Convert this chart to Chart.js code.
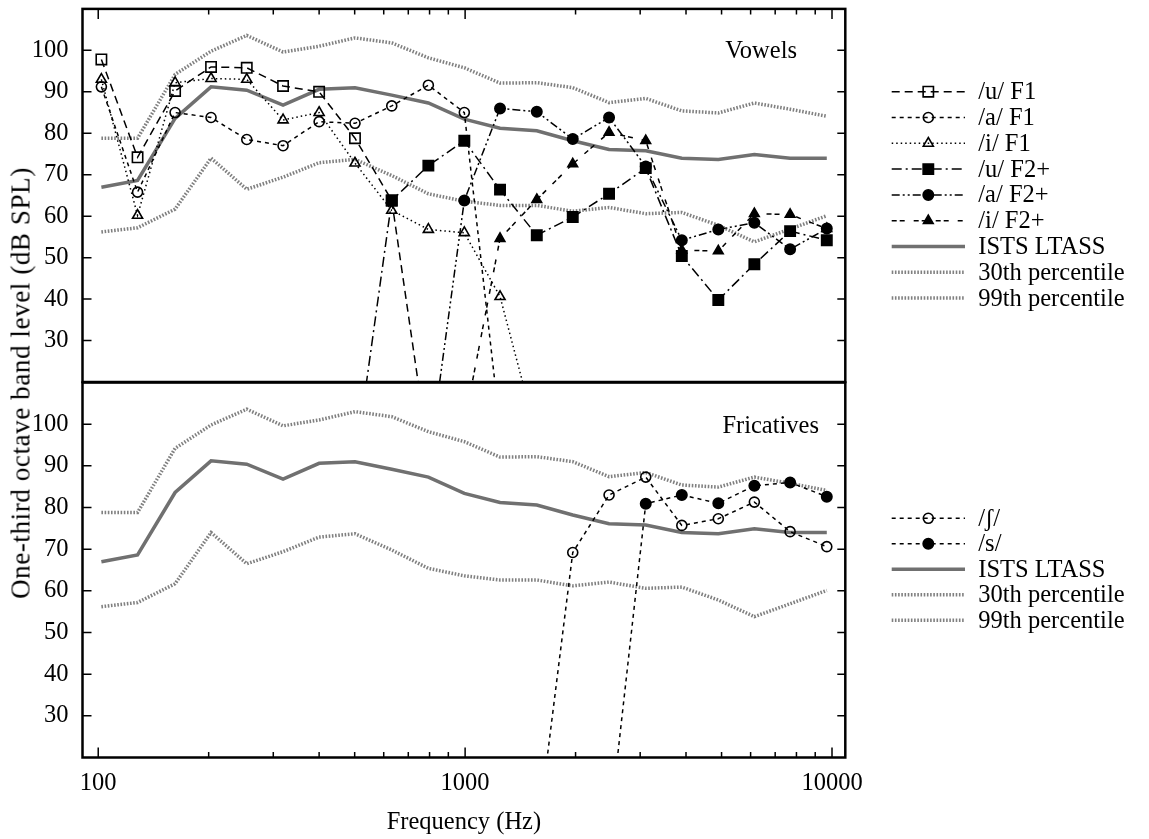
<!DOCTYPE html>
<html>
<head>
<meta charset="utf-8">
<script src="https://cdn.jsdelivr.net/npm/chart.js@4.4.1/dist/chart.umd.min.js"></script>
<style>
html,body{margin:0;padding:0;background:#fff;}
#wrap{position:relative;width:1149px;height:839px;overflow:hidden;background:#fff;}
#wrap canvas{position:absolute;left:0;top:0;}
#ytitle{position:absolute;left:21px;top:383px;transform:translate(-50%,-50%) rotate(-90deg);white-space:nowrap;font:27px "Liberation Serif","DejaVu Serif",serif;letter-spacing:0.6px;color:#000;}
</style>
</head>
<body>
<div id="wrap">
  <canvas id="topChart" width="1149" height="839"></canvas>
  <canvas id="botChart" width="1149" height="839"></canvas>
  <div id="ytitle">One-third octave band level (dB SPL)</div>
</div>
<script>
// one-third octave band spectra: vowels (top panel) and fricatives (bottom panel)
const FONT = '"Liberation Serif", "DejaVu Serif", "Times New Roman", serif';

// band centre frequencies as plotted (Hz)
const bandFreqs = [102,128,162,203,254,319,400,501,631,794,995,1245,1568,1965,2468,3107,3896,4899,6143,7688,9678];

const xMajorTicks = [100, 1000, 10000];
const xMinorTicks = [200,300,400,500,600,700,800,900,2000,3000,4000,5000,6000,7000,8000,9000];
const yTicks = [30,40,50,60,70,80,90,100];
const X_MIN = 90.6, X_MAX = 10870;

// reference spectra (dB SPL)
const ltass = [67.0,68.6,83.6,91.2,90.4,86.8,90.6,91.0,89.2,87.3,83.4,81.2,80.6,78.2,76.1,75.8,74.0,73.7,74.9,74.0,74.0];
const pct30 = [56.2,57.2,61.7,74.0,66.5,69.4,72.9,73.7,69.8,65.4,63.6,62.6,62.6,61.2,62.1,60.6,60.9,57.8,53.8,56.9,60.1];
const pct99 = [78.8,78.8,94.2,99.8,103.6,99.6,101.0,103.0,101.8,98.2,95.8,92.1,92.2,91.0,87.4,88.4,85.4,84.9,87.3,85.8,84.1];

// vowels
const uF1 = [97.8,74.2,90.2,96.0,95.8,91.4,90.0,78.8,63.8,3,null,null,null,null,null,null,null,null,null,null,null];
const aF1 = [91.2,65.8,85.0,83.8,78.5,77.0,82.8,82.4,86.6,91.6,85.0,9,null,null,null,null,null,null,null,null,null];
const iF1 = [93.0,60.2,92.2,93.2,93.0,83.2,85.0,72.8,61.4,56.8,56.0,40.6,7,null,null,null,null,null,null,null,null];
const uF2 = [null,null,null,null,null,null,null,0,63.8,72.2,78.2,66.4,55.4,59.8,65.4,71.6,50.4,39.8,48.4,56.4,54.2];
const aF2 = [null,null,null,null,null,null,null,null,null,0,63.8,86.0,85.2,78.6,83.8,72.0,54.2,56.8,58.4,52.0,57.0];
const iF2 = [null,null,null,null,null,null,null,null,null,null,10,54.6,64.0,72.6,80.2,78.2,51.8,51.6,60.6,60.4,57.0];

// fricatives
const shF = [null,null,null,null,null,null,null,null,null,null,null,null,0,69.2,83.0,87.3,75.7,77.3,81.3,74.2,70.6];
const sF  = [null,null,null,null,null,null,null,null,null,null,null,null,null,null,2,80.9,83.0,81.0,85.2,86.0,82.6];

function pts(vals){ return vals.map((v,i)=>({x:bandFreqs[i], y:v})) }

function markLine(label, vals, dash, style, r, filled){
  return {label, data:pts(vals), borderColor:'#000', borderWidth:1.5, borderDash:dash,
    pointStyle:style, pointRadius:r, pointHoverRadius:r, pointBorderColor:'#000', pointBorderWidth:1.6,
    pointBackgroundColor: filled ? '#000' : 'rgba(0,0,0,0)', tension:0, order:1};
}
function refLines(){
  return [
    {label:'ISTS LTASS', data:pts(ltass), borderColor:'#707070', borderWidth:3.5, pointRadius:0, tension:0, order:2},
    {label:'30th percentile', data:pts(pct30), borderColor:'#808080', borderWidth:3.5, borderDash:[1.6,1.6], pointRadius:0, tension:0, order:3},
    {label:'99th percentile', data:pts(pct99), borderColor:'#808080', borderWidth:3.5, borderDash:[1.6,1.6], pointRadius:0, tension:0, order:3}
  ];
}

function drawMarker(ctx, style, x, y, r, fill, lw){
  ctx.save(); ctx.setLineDash([]); ctx.lineWidth = lw; ctx.strokeStyle = '#000'; ctx.fillStyle = fill;
  ctx.beginPath();
  if(style==='rect'){ const s=r*Math.SQRT1_2; ctx.rect(x-s,y-s,2*s,2*s); }
  else if(style==='triangle'){ for(let k=0;k<3;k++){ const a=k*2*Math.PI/3; ctx.lineTo(x+Math.sin(a)*r, y-Math.cos(a)*r); } ctx.closePath(); }
  else { ctx.arc(x,y,r,0,Math.PI*2); }
  ctx.fill(); ctx.stroke(); ctx.restore();
}

// frame, inside tick marks, panel name and the line+marker legend
const panelDecor = {
  id:'panelDecor',
  afterDraw(chart, args, o){
    const ctx = chart.ctx, a = chart.chartArea, xs = chart.scales.x, ys = chart.scales.y;
    ctx.save();
    ctx.strokeStyle = '#000'; ctx.lineWidth = 1.5; ctx.setLineDash([]);
    ctx.beginPath();
    yTicks.forEach(v=>{ const py = ys.getPixelForValue(v); ctx.moveTo(a.left,py); ctx.lineTo(a.left+9,py); ctx.moveTo(a.right,py); ctx.lineTo(a.right-8,py); });
    const edge = o.tickEdge==='top' ? a.top : a.bottom, sgn = o.tickEdge==='top' ? 1 : -1;
    xMajorTicks.forEach(v=>{ const px = xs.getPixelForValue(v); ctx.moveTo(px,edge); ctx.lineTo(px,edge+sgn*10); });
    xMinorTicks.forEach(v=>{ const px = xs.getPixelForValue(v); ctx.moveTo(px,edge); ctx.lineTo(px,edge+sgn*5.5); });
    ctx.stroke();
    ctx.lineWidth = 2.5;
    ctx.strokeRect(a.left, a.top, a.right-a.left, a.bottom-a.top);

    ctx.fillStyle = '#000'; ctx.font = '24.5px ' + FONT;
    ctx.textAlign = 'right'; ctx.textBaseline = 'alphabetic';
    ctx.fillText(o.name, o.nameX, o.nameY);

    ctx.textAlign = 'left'; ctx.textBaseline = 'middle';
    chart.data.datasets.forEach((d,i)=>{
      const y = o.legendY + i*o.legendStep;
      ctx.save();
      ctx.strokeStyle = d.borderColor; ctx.lineWidth = d.borderWidth; ctx.setLineDash(d.borderDash || []);
      ctx.beginPath(); ctx.moveTo(891.7,y); ctx.lineTo(965,y); ctx.stroke();
      ctx.restore();
      if(d.pointRadius) drawMarker(ctx, d.pointStyle, 928.3, y, d.pointRadius, d.pointBackgroundColor, d.pointBorderWidth);
      ctx.fillText(d.label, 978.3, y+1);
    });
    ctx.restore();
  }
};

// no label overflow padding, so the plot box sits where the layout padding puts it
function noPad(s){ s.paddingTop = 0; s.paddingBottom = 0; s.paddingLeft = 0; s.paddingRight = 0; }

const yAxis = {
  min:20, max:110, position:'left',
  afterFit: s=>{ s.width = 82.5; noPad(s); },
  afterBuildTicks: s=>{ s.ticks = yTicks.map(v=>({value:v})) },
  grid:{display:false, drawTicks:false}, border:{display:false},
  ticks:{font:{family:FONT, size:24.5}, color:'#000', padding:14}
};

const common = {
  responsive:false, animation:false, events:[],
  plugins:{legend:{display:false}, tooltip:{enabled:false}}
};

new Chart(document.getElementById('topChart'), {
  type:'line',
  data:{datasets:[
    markLine('/u/ F1', uF1, [8,5], 'rect', 7.3, false),
    markLine('/a/ F1', aF1, [4,4], 'circle', 5, false),
    markLine('/i/ F1', iF1, [1.5,3], 'triangle', 5.8, false),
    markLine('/u/ F2+', uF2, [10,4,2,4], 'rect', 7.3, true),
    markLine('/a/ F2+', aF2, [8,3,2,3,2,3], 'circle', 5.2, true),
    markLine('/i/ F2+', iF2, [5,3,5,9], 'triangle', 5.6, true),
    ...refLines()
  ]},
  options:{...common,
    layout:{padding:{left:0, top:7, right:303.7, bottom:457}},
    scales:{ x:{type:'logarithmic', min:X_MIN, max:X_MAX, display:false}, y:yAxis },
    plugins:{...common.plugins, panelDecor:{tickEdge:'top', name:'Vowels', nameX:797, nameY:58, legendY:91.7, legendStep:25.8}}
  },
  plugins:[panelDecor]
});

new Chart(document.getElementById('botChart'), {
  type:'line',
  data:{datasets:[
    markLine('/ʃ/', shF, [4,4], 'circle', 5, false),
    markLine('/s/', sF, [4,4], 'circle', 5.2, true),
    ...refLines()
  ]},
  options:{...common,
    layout:{padding:{left:0, top:382.5, right:303.7, bottom:1.3}},
    scales:{
      x:{type:'logarithmic', min:X_MIN, max:X_MAX,
        afterFit: s=>{ s.height = 80.2; noPad(s); },
        afterBuildTicks: s=>{ s.ticks = xMajorTicks.map(v=>({value:v})) },
        grid:{display:false, drawTicks:false}, border:{display:false},
        ticks:{autoSkip:false, maxRotation:0, callback:v=>String(v), font:{family:FONT, size:24.5}, color:'#000', padding:11},
        title:{display:true, text:'Frequency (Hz)', font:{family:FONT, size:24.5}, color:'#000', padding:0}
      },
      y:yAxis
    },
    plugins:{...common.plugins, panelDecor:{tickEdge:'bottom', name:'Fricatives', nameX:819, nameY:433, legendY:518.3, legendStep:25.5}}
  },
  plugins:[panelDecor]
});
</script>
</body>
</html>
